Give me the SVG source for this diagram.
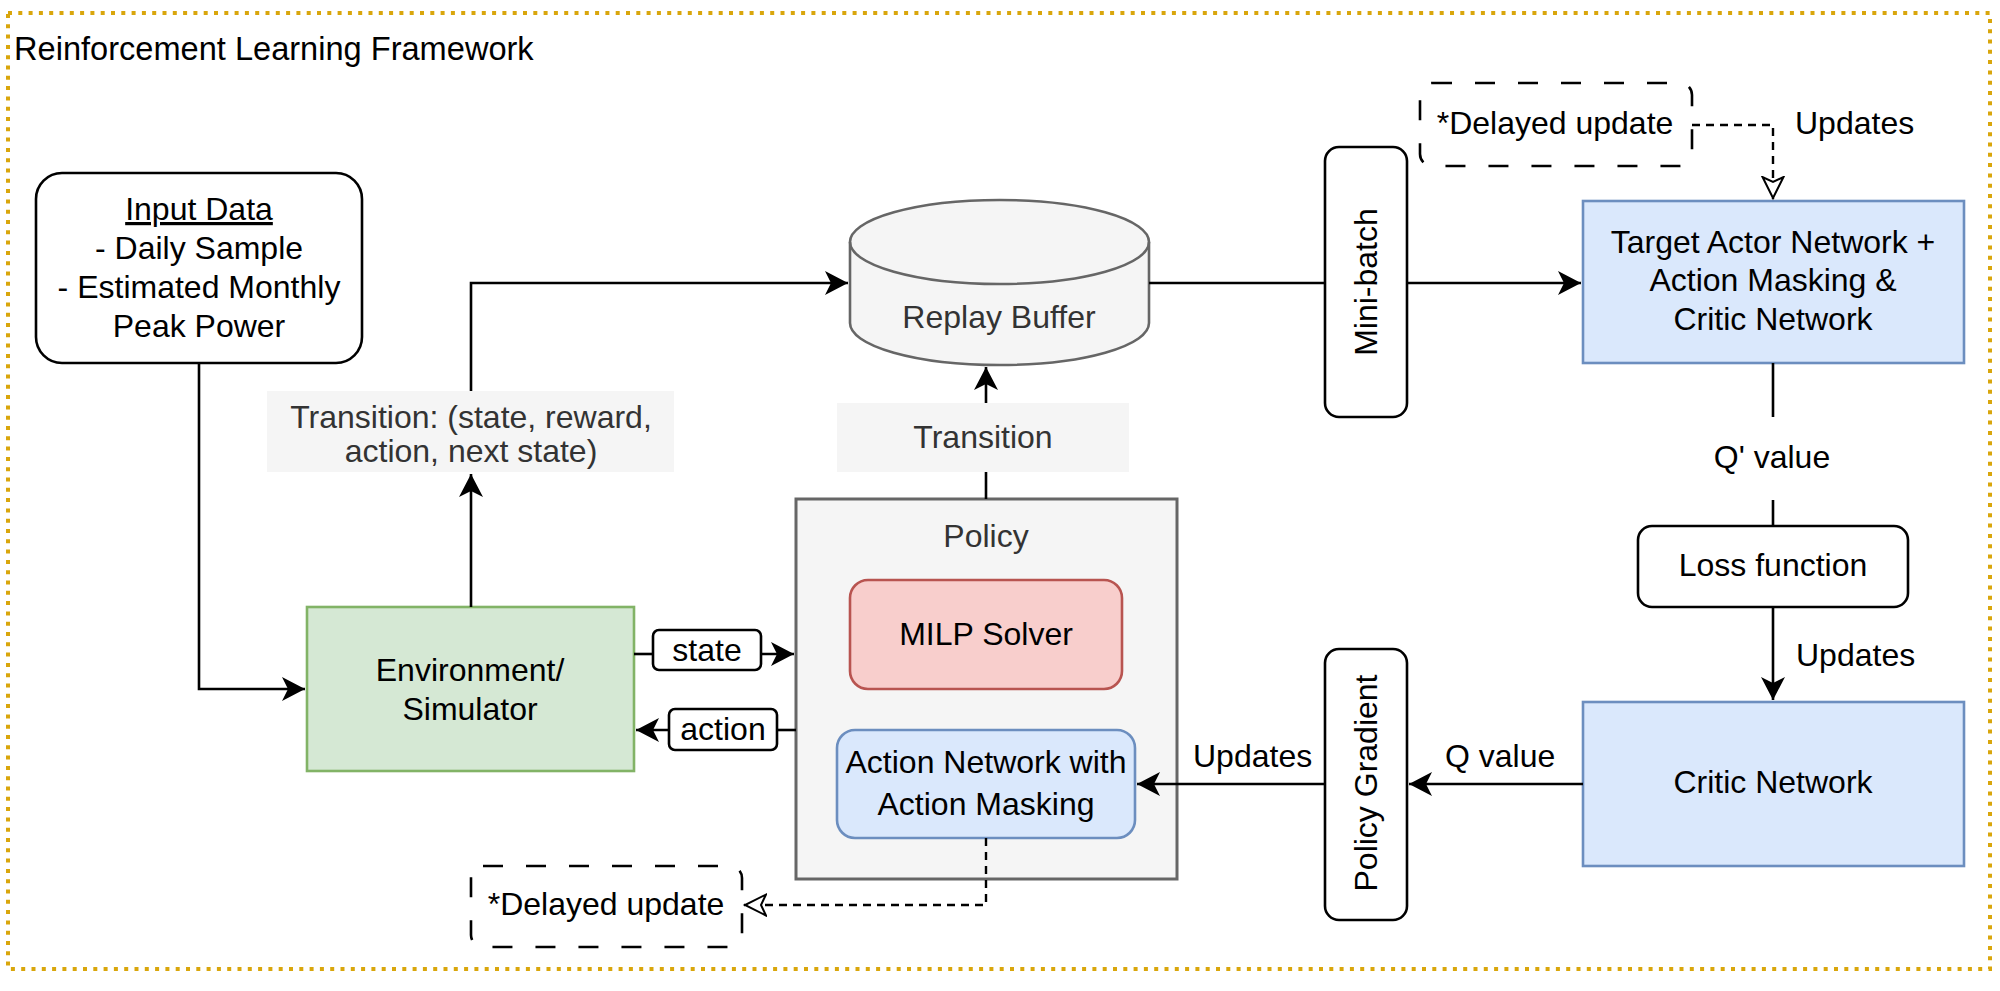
<svg xmlns="http://www.w3.org/2000/svg" width="2000" height="991" viewBox="0 0 2000 991">
<style>
text{font-family:"Liberation Sans",Arial,sans-serif;font-size:32px;fill:#000}
.c{text-anchor:middle}
.g{fill:#333}
.box{fill:#fff;stroke:#000;stroke-width:2.6}
.blue{fill:#dae8fc;stroke:#6c8ebf;stroke-width:2.6}
.ln{fill:none;stroke:#000;stroke-width:2.6}
.dash{fill:none;stroke:#000;stroke-width:2.4;stroke-dasharray:8 6}
.lbl{fill:#f5f5f5;stroke:none}
</style>
<defs>
<marker id="arr" markerUnits="userSpaceOnUse" markerWidth="26" markerHeight="26" refX="23" refY="12" orient="auto">
<path d="M0,0 L23,12 L0,24 L6,12 Z" fill="#000" stroke="none"/>
</marker>
<marker id="open" markerUnits="userSpaceOnUse" markerWidth="28" markerHeight="26" refX="23" refY="12" orient="auto">
<path d="M1,1.5 L22,12 L1,22.5 L6,12 Z" fill="#fff" stroke="#000" stroke-width="2" stroke-dasharray="none"/>
</marker>
</defs>
<rect width="2000" height="991" fill="#fff"/>
<g id="frame">
<rect x="8" y="13" width="1982" height="956" fill="none" stroke="#d9a60c" stroke-width="4" stroke-dasharray="4 6.3"/>
<text x="14" y="60" style="font-size:32.6px">Reinforcement Learning Framework</text>
</g>
<g id="input-data">
<rect class="box" x="36" y="173" width="326" height="190" rx="26"/>
<text class="c" x="199" y="220"><tspan text-decoration="underline">Input Data</tspan></text>
<text class="c" x="199" y="259">- Daily Sample</text>
<text class="c" x="199" y="298">- Estimated Monthly</text>
<text class="c" x="199" y="337">Peak Power</text>
</g>
<g id="transition-label-1">
<rect class="lbl" x="267" y="391" width="407" height="81"/>
<text class="c g" x="471" y="428">Transition: (state, reward,</text>
<text class="c g" x="471" y="462">action, next state)</text>
</g>
<g id="environment">
<rect x="307" y="607" width="327" height="164" fill="#d5e8d4" stroke="#82b366" stroke-width="2.6"/>
<text class="c" x="470" y="681">Environment/</text>
<text class="c" x="470" y="720">Simulator</text>
</g>
<g id="state-label">
<rect class="box" x="653" y="630" width="108" height="40" rx="6"/>
<text class="c" x="707" y="661">state</text>
</g>
<g id="action-label">
<rect class="box" x="669" y="709" width="108" height="41" rx="6"/>
<text class="c" x="723" y="740">action</text>
</g>
<g id="replay-buffer">
<path d="M850,242 A149.5,42 0 0 1 1149,242 V323 A149.5,42 0 0 1 850,323 Z" fill="#f5f5f5" stroke="#666" stroke-width="2.6"/>
<path d="M850,242 A149.5,42 0 0 0 1149,242" fill="none" stroke="#666" stroke-width="2.6"/>
<text class="c g" x="999" y="328">Replay Buffer</text>
</g>
<g id="transition-label-2">
<rect class="lbl" x="837" y="403" width="292" height="69"/>
<text class="c g" x="983" y="448">Transition</text>
</g>
<g id="policy">
<rect x="796" y="499" width="381" height="380" fill="#f5f5f5" stroke="#666" stroke-width="3"/>
<text class="c g" x="986" y="547">Policy</text>
</g>
<g id="milp-solver">
<rect x="850" y="580" width="272" height="109" rx="18" fill="#f8cecc" stroke="#b85450" stroke-width="2.6"/>
<text class="c" x="986" y="645">MILP Solver</text>
</g>
<g id="action-network">
<rect class="blue" x="837" y="730" width="298" height="108" rx="18"/>
<text class="c" x="986" y="773">Action Network with</text>
<text class="c" x="986" y="815">Action Masking</text>
</g>
<g id="delayed-update-bottom">
<rect x="471" y="866" width="271" height="81" rx="12" fill="#fff" stroke="#000" stroke-width="2.6" stroke-dasharray="20 23"/>
<text class="c" x="606" y="915">*Delayed update</text>
</g>
<g id="mini-batch">
<rect class="box" x="1325" y="147" width="82" height="270" rx="14"/>
<text class="c" x="1366" y="293" transform="rotate(-90 1366 282)">Mini-batch</text>
</g>
<g id="delayed-update-top">
<rect x="1420" y="83" width="272" height="83" rx="12" fill="#fff" stroke="#000" stroke-width="2.6" stroke-dasharray="20 23"/>
<text class="c" x="1555" y="134">*Delayed update</text>
</g>
<g id="updates-top-label">
<text x="1795" y="134">Updates</text>
</g>
<g id="target-network">
<rect class="blue" x="1583" y="201" width="381" height="162"/>
<text class="c" x="1773" y="253">Target Actor Network +</text>
<text class="c" x="1773" y="291">Action Masking &amp;</text>
<text class="c" x="1773" y="330">Critic Network</text>
</g>
<g id="q-prime-label">
<text class="c" x="1772" y="468">Q' value</text>
</g>
<g id="loss-function">
<rect class="box" x="1638" y="526" width="270" height="81" rx="14"/>
<text class="c" x="1773" y="576">Loss function</text>
</g>
<g id="updates-critic-label">
<text x="1796" y="666">Updates</text>
</g>
<g id="critic-network">
<rect class="blue" x="1583" y="702" width="381" height="164"/>
<text class="c" x="1773" y="793">Critic Network</text>
</g>
<g id="q-value-label">
<text x="1445" y="767">Q value</text>
</g>
<g id="policy-gradient">
<rect class="box" x="1325" y="649" width="82" height="271" rx="14"/>
<text class="c" x="1366" y="794" transform="rotate(-90 1366 783)">Policy Gradient</text>
</g>
<g id="updates-policy-label">
<text x="1193" y="767">Updates</text>
</g>
<g id="connectors">
<path class="ln" d="M199,363 V689 H305" marker-end="url(#arr)"/>
<path class="ln" d="M471,607 V474" marker-end="url(#arr)"/>
<path class="ln" d="M471,391 V283 H848" marker-end="url(#arr)"/>
<path class="ln" d="M986,499 V472"/>
<path class="ln" d="M986,403 V367" marker-end="url(#arr)"/>
<path class="ln" d="M1149,283 H1325"/>
<path class="ln" d="M1407,283 H1581" marker-end="url(#arr)"/>
<path class="dash" d="M1692,125 H1773 V199" marker-end="url(#open)"/>
<path class="ln" d="M1773,363 V417 M1773,500 V526"/>
<path class="ln" d="M1773,607 V700" marker-end="url(#arr)"/>
<path class="ln" d="M1583,784 H1409" marker-end="url(#arr)"/>
<path class="ln" d="M1325,784 H1137" marker-end="url(#arr)"/>
<path class="dash" d="M986,838 V905 H744" marker-end="url(#open)"/>
<path class="ln" d="M634,654 H653"/>
<path class="ln" d="M761,654 H794" marker-end="url(#arr)"/>
<path class="ln" d="M796,730 H777"/>
<path class="ln" d="M669,730 H636" marker-end="url(#arr)"/>
</g>
</svg>
